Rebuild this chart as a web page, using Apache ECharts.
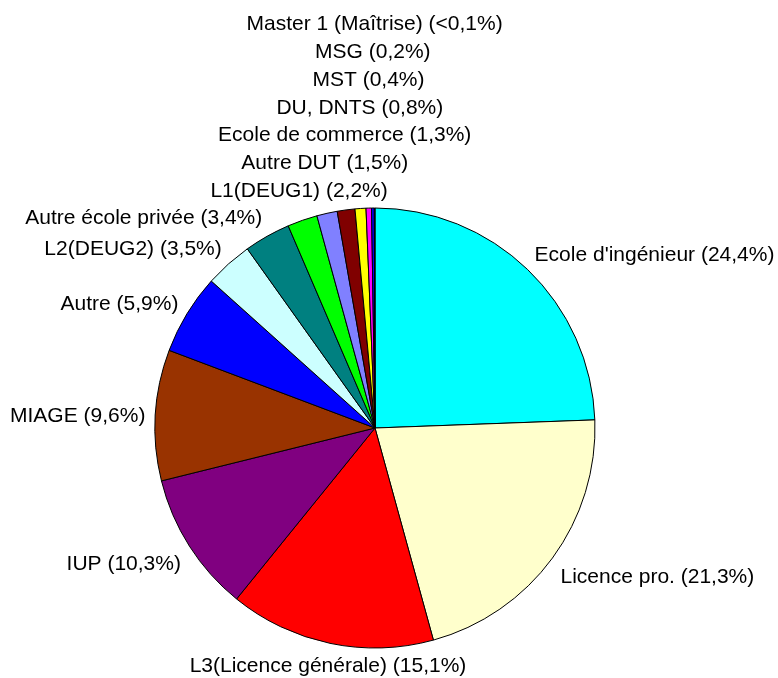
<!DOCTYPE html>
<html>
<head>
<meta charset="utf-8">
<script src="https://cdn.jsdelivr.net/npm/echarts@6/dist/echarts.min.js"></script>
<style>
  html, body { margin: 0; padding: 0; background: #fff; }
  #chart { width: 778px; height: 678px; }
</style>
</head>
<body>
<div id="chart"></div>
<script>
const categories = [
  "Ecole d'ingénieur", "Licence pro.", "L3(Licence générale)", "IUP", "MIAGE",
  "Autre", "L2(DEUG2)", "Autre école privée", "L1(DEUG1)", "Autre DUT",
  "Ecole de commerce", "DU, DNTS", "MST", "MSG", "Master 1 (Maîtrise)"
]
const values = [24.4, 21.3, 15.1, 10.3, 9.6, 5.9, 3.5, 3.4, 2.2, 1.5, 1.3, 0.8, 0.4, 0.2, 0.05]
const pctLabels = ["24,4%", "21,3%", "15,1%", "10,3%", "9,6%", "5,9%", "3,5%", "3,4%",
  "2,2%", "1,5%", "1,3%", "0,8%", "0,4%", "0,2%", "<0,1%"]
const colors = ["#00FFFF", "#FFFFCC", "#FF0000", "#800080", "#993300", "#0000FF", "#CCFFFF",
  "#008080", "#00FF00", "#8080FF", "#800000", "#FFFF00", "#FF00FF", "#0000FF", "#000080"]

const FONT_SIZE = 21
const FONT_FAMILY = 'Arial, "Liberation Sans", sans-serif'
const CX = 375, CY = 428, R = 220
const BOX_H = 27.7   // hauteur d'une étiquette (texte + marge)
const GAP = 10       // distance étiquette / bord du camembert

const labelText = i => categories[i] + " (" + pctLabels[i] + ")"

// placement des étiquettes façon Excel : ancrage sur l'angle médian,
// puis on remonte celles qui se chevauchent (petites parts du haut)
const computeLabelBoxes = () => {
  const ctx = document.createElement("canvas").getContext("2d")
  ctx.font = FONT_SIZE + "px " + FONT_FAMILY
  const total = values.reduce((a, b) => a + b, 0)
  const boxes = []
  let acc = 0
  values.forEach((v, i) => {
    const theta = (acc + v / 2) / total * Math.PI * 2
    acc += v
    const s = Math.sin(theta), c = Math.cos(theta)
    const px = CX + (R + GAP) * s
    const py = CY - (R + GAP) * c
    const w = ctx.measureText(labelText(i)).width
    const ax = s > 0.35 ? 0 : s < -0.35 ? 1 : 0.5
    const top = c >= 0 ? py - (1 + c) / 2 * 0.92 * BOX_H + 1 : py - Math.max(0, 0.5 + c) * BOX_H - 1
    let box = { x: px - ax * w, y: top, w, h: BOX_H, cx: px }
    // collisions : on pousse vers le haut, centré sur l'ancrage
    let moved = true
    while (moved) {
      moved = false
      for (const b of boxes) {
        const overlapX = box.x < b.x + b.w && box.x + box.w > b.x
        const overlapY = box.y < b.y + b.h - 0.5 && box.y + box.h > b.y + 0.5
        if (overlapX && overlapY) {
          box.y = b.y - box.h
          box.x = box.cx - w / 2
          moved = true
        }
      }
    }
    boxes.push(box)
  })
  return boxes
}

const chart = echarts.init(document.getElementById("chart"))
const boxes = computeLabelBoxes()

chart.setOption({
  backgroundColor: "#fff",
  animation: false,
  series: [
    {
      type: "pie",
      center: [CX, CY],
      radius: R,
      startAngle: 90,
      clockwise: true,
      avoidLabelOverlap: false,
      minShowLabelAngle: 0,
      data: categories.map((name, i) => ({
        name,
        value: values[i],
        itemStyle: { color: colors[i] }
      })),
      itemStyle: { borderColor: "#000", borderWidth: 1 },
      emphasis: { disabled: true },
      label: {
        show: true,
        position: "outside",
        formatter: p => labelText(p.dataIndex),
        color: "#000",
        fontSize: FONT_SIZE,
        fontFamily: FONT_FAMILY
      },
      labelLine: { show: false },
      labelLayout: p => {
        const b = boxes[p.dataIndex]
        return { x: b.x, y: b.y + b.h / 2, align: "left", verticalAlign: "middle" }
      }
    }
  ]
})
</script>
</body>
</html>
